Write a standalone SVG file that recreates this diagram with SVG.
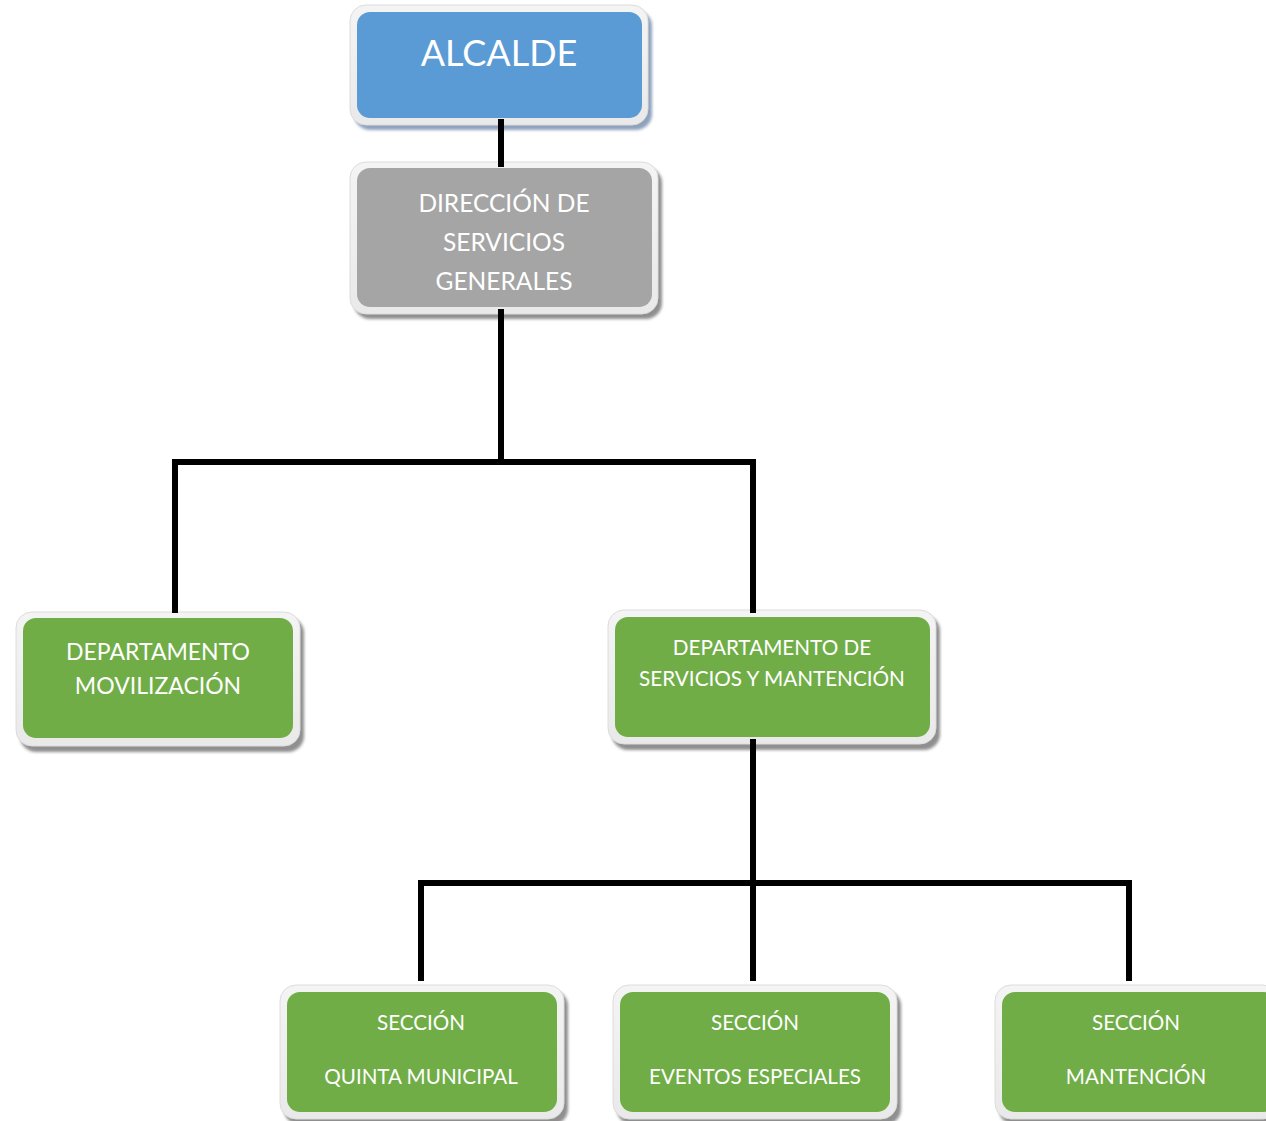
<svg xmlns="http://www.w3.org/2000/svg" width="1266" height="1121" viewBox="0 0 1266 1121">
<defs>
<filter id="blur" x="-10%" y="-10%" width="120%" height="120%"><feGaussianBlur stdDeviation="1.5"/></filter>
<linearGradient id="frameGrad" x1="0" y1="0" x2="0" y2="1"><stop offset="0" stop-color="#f4f4f4"/><stop offset="1" stop-color="#e9e9e9"/></linearGradient>
</defs>
<style>
.bg{fill:#ffffff}
.conn{stroke:#000000;stroke-width:6;fill:none;stroke-linecap:butt;stroke-linejoin:miter}
.shadow{fill:#8f8f8f;filter:url(#blur)}
.shadowBlue{fill:#8ea2bd;filter:url(#blur)}
.frame{fill:url(#frameGrad);stroke:#dcdcdc;stroke-width:1}
.blue{fill:#5b9bd5}
.gray{fill:#a5a5a5}
.green{fill:#70ad47}
.t{font-family:Lato,"Open Sans","Liberation Sans",sans-serif;fill:#ffffff;text-anchor:middle}
</style>
<rect class="bg" x="0" y="0" width="1266" height="1121"/>
<g id="alcalde">
<rect class="shadowBlue" x="354" y="10" width="298" height="120" rx="16"/>
<rect class="frame" x="350" y="5" width="298" height="120" rx="16"/>
<rect class="blue" x="357" y="12" width="285" height="106" rx="13"/>
<text class="t" x="499" y="66" font-size="36">ALCALDE</text>
</g>
<g id="direccion">
<rect class="shadow" x="354" y="167" width="308" height="152" rx="16"/>
<rect class="frame" x="350" y="162" width="308" height="152" rx="16"/>
<rect class="gray" x="357" y="168" width="295" height="139" rx="13"/>
<text class="t" font-size="24.5"><tspan x="504" y="212">DIRECCIÓN DE</tspan><tspan x="504" y="251">SERVICIOS</tspan><tspan x="504" y="290">GENERALES</tspan></text>
</g>
<g id="depto-movilizacion">
<rect class="shadow" x="20" y="617" width="284" height="135" rx="16"/>
<rect class="frame" x="16" y="612" width="284" height="134" rx="16"/>
<rect class="green" x="23" y="618" width="270" height="120" rx="13"/>
<text class="t" font-size="23"><tspan x="158" y="660">DEPARTAMENTO</tspan><tspan x="158" y="694">MOVILIZACIÓN</tspan></text>
</g>
<g id="depto-servicios">
<rect class="shadow" x="612" y="615" width="328" height="135" rx="16"/>
<rect class="frame" x="608" y="610" width="328" height="134" rx="16"/>
<rect class="green" x="615" y="617" width="315" height="120" rx="13"/>
<text class="t" font-size="20.7"><tspan x="772" y="655">DEPARTAMENTO DE</tspan><tspan x="772" y="686">SERVICIOS Y MANTENCIÓN</tspan></text>
</g>
<g id="seccion-quinta">
<rect class="shadow" x="284" y="990" width="284" height="135" rx="16"/>
<rect class="frame" x="280" y="985" width="284" height="134" rx="16"/>
<rect class="green" x="287" y="992" width="270" height="120" rx="13"/>
<text class="t" font-size="20.6"><tspan x="421" y="1030">SECCIÓN</tspan><tspan x="421" y="1084">QUINTA MUNICIPAL</tspan></text>
</g>
<g id="seccion-eventos">
<rect class="shadow" x="617" y="990" width="284" height="135" rx="16"/>
<rect class="frame" x="613" y="985" width="284" height="134" rx="16"/>
<rect class="green" x="620" y="992" width="270" height="120" rx="13"/>
<text class="t" font-size="20.6"><tspan x="755" y="1030">SECCIÓN</tspan><tspan x="755" y="1084">EVENTOS ESPECIALES</tspan></text>
</g>
<g id="seccion-mantencion">
<rect class="shadow" x="999" y="990" width="284" height="135" rx="16"/>
<rect class="frame" x="995" y="985" width="284" height="134" rx="16"/>
<rect class="green" x="1002" y="992" width="275" height="120" rx="13"/>
<text class="t" font-size="20.6"><tspan x="1136" y="1030">SECCIÓN</tspan><tspan x="1136" y="1084">MANTENCIÓN</tspan></text>
</g>
<g id="connectors">
<path class="conn" d="M501,119 V167"/>
<path class="conn" d="M501,309 V462"/>
<path class="conn" d="M175,613 V462 H753 V613"/>
<path class="conn" d="M753,739 V981"/>
<path class="conn" d="M421,981 V883 H1129 V981"/>
</g>
</svg>
